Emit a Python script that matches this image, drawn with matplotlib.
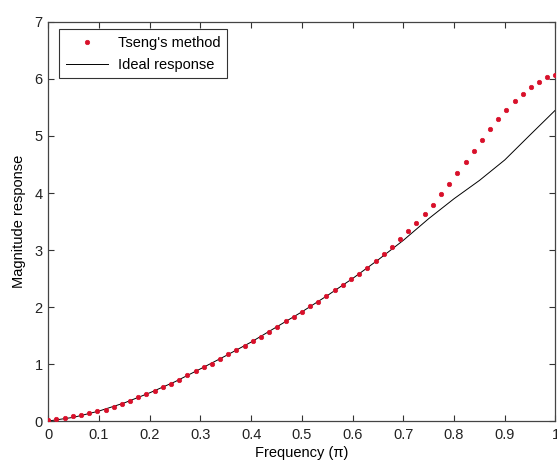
import numpy as np
import matplotlib
matplotlib.use("Agg")
import matplotlib.pyplot as plt

plt.rcParams['font.family'] = ['Liberation Sans', 'DejaVu Sans']

# Tseng's method samples (63 points from 0 to 1)
tseng_vals = [0.02, 0.04, 0.06, 0.08, 0.105, 0.14, 0.17, 0.20, 0.245, 0.30,
              0.35, 0.415, 0.47, 0.53, 0.59, 0.655, 0.725, 0.80, 0.87, 0.95,
              1.005, 1.09, 1.17, 1.245, 1.32, 1.40, 1.47, 1.555, 1.655, 1.75,
              1.825, 1.91, 2.015, 2.09, 2.193, 2.298, 2.38, 2.485, 2.585, 2.685,
              2.81, 2.935, 3.058, 3.187, 3.327, 3.468, 3.632, 3.795, 3.975, 4.165,
              4.345, 4.55, 4.735, 4.925, 5.13, 5.29, 5.455, 5.62, 5.745, 5.865,
              5.945, 6.03, 6.07]
tseng_freq = np.linspace(0, 1, len(tseng_vals))

# Ideal response
ideal_freq = [0, 0.05, 0.1, 0.15, 0.2, 0.25, 0.3, 0.35, 0.4, 0.45, 0.5,
              0.55, 0.6, 0.65, 0.7, 0.75, 0.8, 0.85, 0.9, 0.95, 1.0]
ideal_vals = [0, 0.065, 0.175, 0.318, 0.495, 0.69, 0.915, 1.145, 1.385, 1.65,
              1.915, 2.20, 2.50, 2.825, 3.17, 3.55, 3.90, 4.22, 4.58, 5.02, 5.456]

xticks = [0, 0.1, 0.2, 0.3, 0.4, 0.5, 0.6, 0.7, 0.8, 0.9, 1]
xticklabels = ['0', '0.1', '0.2', '0.3', '0.4', '0.5', '0.6', '0.7', '0.8', '0.9', '1']
yticks = [0, 1, 2, 3, 4, 5, 6, 7]

fig = plt.figure(figsize=(5.57, 4.62), dpi=100)
ax = fig.add_axes([0.0867, 0.0887, 0.9106, 0.8637])

ax.plot(tseng_freq, tseng_vals, linestyle='none', marker='o', markersize=3.2,
        color='#d8102a', markeredgecolor='#d8102a', markeredgewidth=0.5,
        label="Tseng's method", zorder=3)
ax.plot(ideal_freq, ideal_vals, color='black', linewidth=0.7, label='Ideal response', zorder=2)

ax.set_xlim(0, 1)
ax.set_ylim(0, 7)
ax.set_xticks(xticks)
ax.set_xticklabels(xticklabels)
ax.set_yticks(yticks)
ax.tick_params(direction='in', top=True, right=True, length=4, width=0.8,
               labelsize=10.5, colors='#333333', labelcolor='#222222')
ax.tick_params(axis='x', pad=5)
ax.tick_params(axis='y', pad=4)
for s in ax.spines.values():
    s.set_color('#444444')
    s.set_linewidth(0.9)

ax.set_xlabel('Frequency (\u03c0)', fontsize=10.5, labelpad=3)
ax.set_ylabel('Magnitude response', fontsize=10.5, labelpad=6)

leg = ax.legend(loc='upper left', bbox_to_anchor=(0.021, 0.982), fancybox=False,
                edgecolor='black', fontsize=10.5, handlelength=2.9,
                borderpad=0.45, labelspacing=0.55, handletextpad=0.7, borderaxespad=0)
leg.get_frame().set_linewidth(0.8)

fig.savefig('out.png', dpi=100)
